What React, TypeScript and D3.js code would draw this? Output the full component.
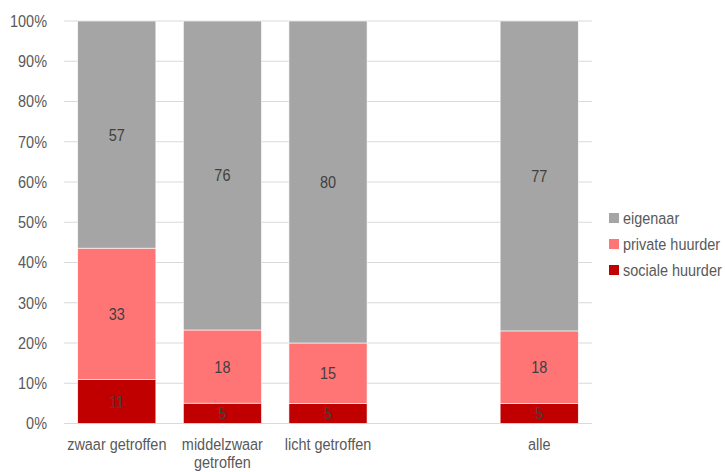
import React from "react";
import * as d3 from "d3";

const categories = ["zwaar getroffen", "middelzwaar getroffen", "licht getroffen", "", "alle"];
const categoryLines = [["zwaar getroffen"], ["middelzwaar", "getroffen"], ["licht getroffen"], [], ["alle"]];
const seriesNames = ["sociale huurder", "private huurder", "eigenaar"];
const socialeHuurder = [11, 5, 5, null, 5];
const privateHuurder = [33, 18, 15, null, 18];
const eigenaar = [57, 76, 80, null, 77];
const colors = ["#C00000", "#FF7575", "#A5A5A5"];
const yTicks = [0, 0.1, 0.2, 0.3, 0.4, 0.5, 0.6, 0.7, 0.8, 0.9, 1];

const FONT = "'Liberation Sans', Arial, sans-serif";
const SX = 0.85;

function NText({ x, y, anchor = "start", fill, children, size = 17 }: any) {
  return (
    <g transform={`translate(${x},${y}) scale(${SX},1)`}>
      <text x={0} y={0} dy="0.35em" textAnchor={anchor} fontSize={size} fill={fill}>{children}</text>
    </g>
  );
}

export default function App() {
  const W = 725, H = 472;
  const left = 64, right = 592, top = 21, bottom = 423.5;
  const x = d3.scaleBand().domain(categories.map((c, i) => String(i))).range([left, right]).paddingInner(0.26).paddingOuter(0.13);
  const y = d3.scaleLinear().domain([0, 1]).range([bottom, top]);

  const rows = categories.map((c, i) => ({
    key: String(i),
    s: socialeHuurder[i],
    p: privateHuurder[i],
    e: eigenaar[i],
  }));
  const valid = rows.filter(r => r.s != null);
  const norm = valid.map(r => {
    const t = (r.s as number) + (r.p as number) + (r.e as number);
    return { key: r.key, s: (r.s as number) / t, p: (r.p as number) / t, e: (r.e as number) / t, raw: [r.s, r.p, r.e] };
  });
  const stack = d3.stack<any>().keys(["s", "p", "e"])(norm);

  const textColor = "#595959";
  const labelColor = "#404040";

  return (
    <svg width={W} height={H} style={{ position: "absolute", left: 0, top: 0, background: "#fff" }} fontFamily={FONT}>
      {yTicks.map(t => (
        <g key={t}>
          <line x1={left} x2={right} y1={y(t)} y2={y(t)} stroke="#D9D9D9" strokeWidth={1} />
          <NText x={47} y={y(t)} anchor="end" fill={textColor}>{d3.format(".0%")(t)}</NText>
        </g>
      ))}
      {stack.map((layer, li) => (
        <g key={li}>
          {layer.map((d, j) => {
            const k = norm[j].key;
            const x0 = x(k) as number;
            const y0 = y(d[1]);
            const y1 = y(d[0]);
            return (
              <g key={k}>
                <rect x={x0} y={y0} width={x.bandwidth()} height={y1 - y0} fill={colors[li]} stroke="#fff" strokeWidth={0.6} />
                <NText x={x0 + x.bandwidth() / 2} y={(y0 + y1) / 2} anchor="middle" fill={labelColor}>
                  {norm[j].raw[li]}
                </NText>
              </g>
            );
          })}
        </g>
      ))}
      {categoryLines.map((lines, i) => (
        <g key={i}>
          {lines.map((l, li) => (
            <NText key={li} x={(x(String(i)) as number) + x.bandwidth() / 2} y={444 + li * 18.5} anchor="middle" fill={textColor}>{l}</NText>
          ))}
        </g>
      ))}
      {[2, 1, 0].map((si, idx) => (
        <g key={si}>
          <rect x={609} y={213 + idx * 26} width={10} height={10} fill={colors[si]} />
          <NText x={623} y={218 + idx * 26} fill={textColor}>{seriesNames[si]}</NText>
        </g>
      ))}
    </svg>
  );
}
